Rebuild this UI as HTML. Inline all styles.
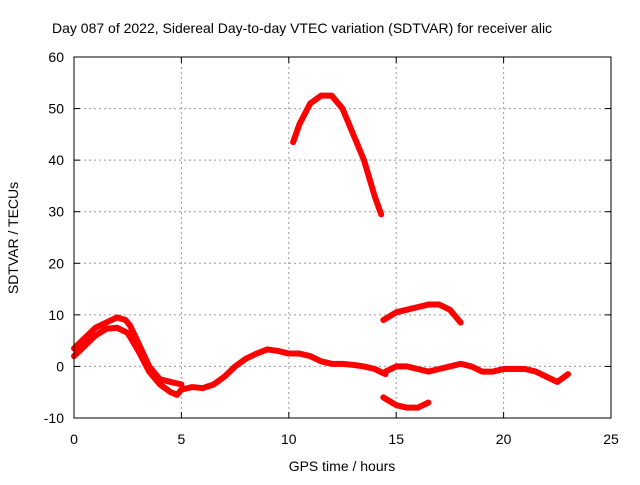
<!DOCTYPE html>
<html><head><meta charset="utf-8"><style>
body{margin:0;background:#fff;width:640px;height:480px;overflow:hidden}
svg text{font-family:"Liberation Sans",sans-serif;font-size:14px;fill:#000}
</style></head><body>
<svg width="640" height="480" id="svg">
<text x="52" y="33">Day 087 of 2022, Sidereal Day-to-day VTEC variation (SDTVAR) for receiver alic</text>
<g id="grid"></g><g id="series"></g><g id="axes"></g>
<text x="342" y="471" text-anchor="middle">GPS time / hours</text>
<text transform="translate(18,238) rotate(-90)" text-anchor="middle">SDTVAR / TECUs</text>
</svg>
<script>
const xTicks=[0,5,10,15,20,25];
const yTicks=[-10,0,10,20,30,40,50,60];
const segMainLow=[[0,2],[0.5,4],[1,6],[1.5,7.3],[2,7.5],[2.5,6.5],[3,3],[3.5,-1],[4,-3.5],[4.5,-5],[4.8,-5.5],[5,-4.5],[5.5,-4],[6,-4.2],[6.5,-3.5],[7,-2],[7.5,0],[8,1.5],[8.5,2.5],[9,3.3],[9.5,3],[10,2.5],[10.5,2.5],[11,2],[11.5,1],[12,0.5],[12.5,0.5],[13,0.3],[13.5,0],[14,-0.5],[14.5,-1.5]];
const segMainHigh=[[0,3.5],[0.5,5.5],[1,7.5],[1.5,8.5],[2,9.5],[2.4,9],[2.6,8],[3,4.5],[3.5,0],[4,-2.5],[4.5,-3],[5,-3.5]];
const segLate=[[14.5,-1],[15,0],[15.5,0],[16,-0.5],[16.5,-1],[17,-0.5],[17.5,0],[18,0.5],[18.5,0],[19,-1],[19.5,-1],[20,-0.5],[20.5,-0.5],[21,-0.5],[21.5,-1],[22,-2],[22.5,-3],[23,-1.5]];
const segArc=[[10.2,43.5],[10.5,47],[11,51],[11.5,52.5],[12,52.5],[12.5,50],[13,45],[13.5,40],[14,33],[14.3,29.5]];
const segMid=[[14.4,9],[15,10.5],[15.5,11],[16,11.5],[16.5,12],[17,12],[17.5,11],[18,8.5]];
const segNeg=[[14.4,-6],[15,-7.5],[15.5,-8],[16,-8],[16.5,-7]];
const X0=74,X1=611,Y0=418,Y1=57;
const sx=v=>X0+(v-0)/25*(X1-X0);
const sy=v=>Y0-(v+10)/70*(Y0-Y1);
const NS="http://www.w3.org/2000/svg";
function mk(t,a,p){const e=document.createElementNS(NS,t);for(const k in a)e.setAttribute(k,a[k]);p.appendChild(e);return e;}
const grid=document.getElementById('grid'),axes=document.getElementById('axes'),ser=document.getElementById('series');
xTicks.forEach(v=>{
  if(v>0&&v<25){const l=mk('line',{x1:sx(v),x2:sx(v),y1:Y1,y2:Y0,stroke:'#999','stroke-dasharray':'2,3'},grid);
  
  }
  const t=mk('text',{x:sx(v),y:Y0+26,'text-anchor':'middle'},axes);t.textContent=v;
  
  
  mk('line',{x1:sx(v),x2:sx(v),y1:Y0,y2:Y0-6,stroke:'#000'},axes);
  mk('line',{x1:sx(v),x2:sx(v),y1:Y1,y2:Y1+6,stroke:'#000'},axes);
});
yTicks.forEach(v=>{
  if(v>-10&&v<60){const l=mk('line',{x1:X0,x2:X1,y1:sy(v),y2:sy(v),stroke:'#999','stroke-dasharray':'2,3'},grid);
  
  }
  const t=mk('text',{x:X0-10,y:sy(v)+5,'text-anchor':'end'},axes);t.textContent=v;
  
  
  mk('line',{x1:X0,x2:X0+6,y1:sy(v),y2:sy(v),stroke:'#000'},axes);
  mk('line',{x1:X1,x2:X1-6,y1:sy(v),y2:sy(v),stroke:'#000'},axes);
});
const fr=mk('rect',{x:X0,y:Y1,width:X1-X0,height:Y0-Y1,fill:'none',stroke:'#000'},axes);


const segs=[[segMainLow,'series-main-low'],[segMainHigh,'series-main-high'],[segLate,'series-late'],[segArc,'series-arc'],[segMid,'series-mid'],[segNeg,'series-negative']];
segs.forEach(([d,n])=>{
  const p=mk('polyline',{points:d.map(q=>sx(q[0])+','+sy(q[1])).join(' '),fill:'none',stroke:'#f00','stroke-width':6,'stroke-linejoin':'round','stroke-linecap':'round'},ser);
  
  
});
</script>
</body></html>
